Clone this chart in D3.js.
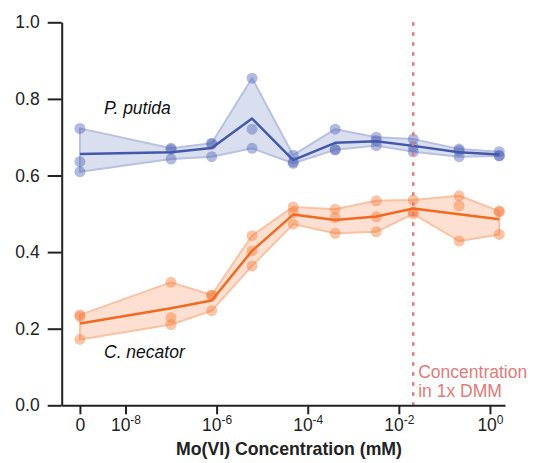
<!DOCTYPE html>
<html>
<head>
<meta charset="utf-8">
<script src="https://cdn.jsdelivr.net/npm/d3@7"></script>
<style>
  body { margin: 0; background: #fff; }
  svg text { font-family: "Liberation Sans", Arial, sans-serif; }
</style>
</head>
<body>
<svg id="chart" width="538" height="463"></svg>
<script>
// Mo(VI) concentrations in mM (0 is drawn one decade left of 1e-8)
const conc = [0, 1e-7, 7.8e-7, 6e-6, 4.8e-5, 4e-4, 3.2e-3, 2.07e-2, 0.21, 1.6];

// three replicates per concentration
const putidaRep1 = [0.723, 0.671, 0.684, 0.854, 0.653, 0.721, 0.700, 0.695, 0.669, 0.662];
const putidaRep2 = [0.636, 0.668, 0.682, 0.721, 0.635, 0.667, 0.691, 0.675, 0.665, 0.652];
const putidaRep3 = [0.610, 0.643, 0.649, 0.671, 0.632, 0.668, 0.678, 0.662, 0.649, 0.651];

const necatorRep1 = [0.236, 0.321, 0.288, 0.443, 0.518, 0.512, 0.534, 0.536, 0.547, 0.507];
const necatorRep2 = [0.232, 0.229, 0.286, 0.403, 0.503, 0.490, 0.492, 0.505, 0.521, 0.505];
const necatorRep3 = [0.172, 0.211, 0.247, 0.364, 0.473, 0.449, 0.453, 0.500, 0.429, 0.446];

const xTicks = [0, 1e-8, 1e-6, 1e-4, 1e-2, 1];
const xTickExp = [null, "-8", "-6", "-4", "-2", "0"];
const yTicks = [0, 0.2, 0.4, 0.6, 0.8, 1.0];
const dmmConc = 2.07e-2;

const svg = d3.select("#chart");

var x = d3.scaleLog()
  .domain([Math.pow(10, -9.4), Math.pow(10, 0.33)])
  .range([61.7, 505]);
const xPos = v => x(v === 0 ? 1e-9 : v);

var y = d3.scaleLinear()
  .domain([0, 1])
  .range([405.3, 22.3]);

const series = [
  {name: "P. putida", reps: [putidaRep1, putidaRep2, putidaRep3],
   line: "#4358aa", dot: "#5567b8", fill: "#dadfef", edge: "#b9c1e0",
   lx: 104, ly: 114},
  {name: "C. necator", reps: [necatorRep1, necatorRep2, necatorRep3],
   line: "#f26a22", dot: "#f47c3a", fill: "#fde0d1", edge: "#f9c2a3",
   lx: 104, ly: 357.7}
];

for (let s of series) {
  const rows = conc.map((c, i) => {
    const vals = s.reps.map(r => r[i]);
    return {c: c, vals: vals, min: d3.min(vals), max: d3.max(vals), mean: d3.mean(vals)};
  });

  // min-max band
  svg.append("path")
    .datum(rows)
    .attr("d", d3.area().x(d => xPos(d.c)).y0(d => y(d.min)).y1(d => y(d.max)))
    .attr("fill", s.fill)
    .attr("stroke", s.edge)
    .attr("stroke-width", 2)
    .attr("stroke-linejoin", "round");

  // replicate dots
  const pts = [];
  rows.forEach(r => r.vals.forEach(v => pts.push({c: r.c, v: v})));
  svg.selectAll(null)
    .data(pts)
    .join("circle")
      .attr("cx", d => xPos(d.c))
      .attr("cy", d => y(d.v))
      .attr("r", 5.5)
      .attr("fill", s.dot)
      .attr("fill-opacity", 0.45);

  // mean line
  svg.append("path")
    .datum(rows)
    .attr("d", d3.line().x(d => xPos(d.c)).y(d => y(d.mean)))
    .attr("fill", "none")
    .attr("stroke", s.line)
    .attr("stroke-width", 2.5)
    .attr("stroke-linejoin", "round");

  svg.append("text")
    .attr("x", s.lx)
    .attr("y", s.ly)
    .attr("font-size", 17.5)
    .attr("font-style", "italic")
    .attr("fill", "#111")
    .text(s.name);
}

// DMM reference line
svg.append("line")
  .attr("x1", x(dmmConc)).attr("x2", x(dmmConc))
  .attr("y1", y(1)).attr("y2", y(0))
  .attr("stroke", "#e07b7b")
  .attr("stroke-width", 2.5)
  .attr("stroke-dasharray", "3.5,6.5");

const note = svg.append("text")
  .attr("x", x(dmmConc) + 5)
  .attr("y", 378)
  .attr("font-size", 17.5)
  .attr("fill", "#e07b7b");
note.append("tspan").text("Concentration");
note.append("tspan").attr("x", x(dmmConc) + 5).attr("dy", 19).text("in 1x DMM");

// axes
const xAxis = svg.append("g")
  .attr("transform", `translate(0,${y(0)})`)
  .call(d3.axisBottom(x)
    .tickValues(xTicks.map(v => v === 0 ? 1e-9 : v))
    .tickFormat("")
    .tickSize(9)
    .tickSizeOuter(0));

xAxis.selectAll(".tick").each(function(d, i) {
  const t = d3.select(this).append("text")
    .attr("y", 26)
    .attr("fill", "#222")
    .attr("font-size", 17.5)
    .attr("text-anchor", "middle");
  if (xTickExp[i] === null) {
    t.text("0");
  } else {
    t.append("tspan").text("10");
    t.append("tspan").attr("font-size", 12).attr("dy", -7).text(xTickExp[i]);
  }
});

const yAxis = svg.append("g")
  .attr("transform", `translate(${x.range()[0]},0)`)
  .call(d3.axisLeft(y)
    .tickValues(yTicks)
    .tickFormat(d3.format(".1f"))
    .tickSize(14)
    .tickSizeOuter(0));

svg.selectAll(".domain, .tick line")
  .attr("stroke", "#222")
  .attr("stroke-width", 2);
yAxis.selectAll(".tick text")
  .attr("font-size", 17.5)
  .attr("fill", "#222")
  .attr("x", -22);

svg.append("text")
  .attr("x", 289)
  .attr("y", 455)
  .attr("text-anchor", "middle")
  .attr("font-size", 17.7)
  .attr("font-weight", "bold")
  .attr("fill", "#222")
  .text("Mo(VI) Concentration (mM)");
</script>
</body>
</html>
